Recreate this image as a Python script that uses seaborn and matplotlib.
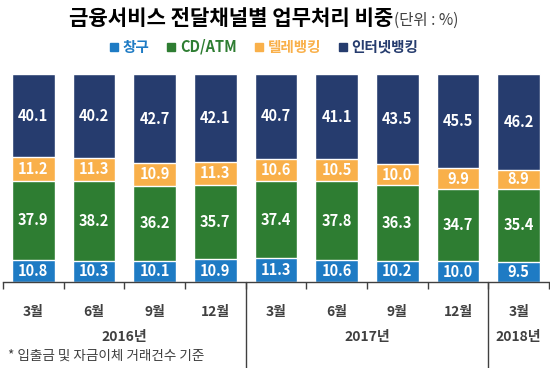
import numpy as np
import pandas as pd
import matplotlib
matplotlib.use("Agg")
import matplotlib.pyplot as plt
import matplotlib.transforms as mtransforms
from matplotlib.lines import Line2D
import seaborn as sns

# ---- data ----
months = ["3월", "6월", "9월", "12월", "3월", "6월", "9월", "12월", "3월"]
years = ["2016년", "2016년", "2016년", "2016년", "2017년", "2017년", "2017년", "2017년", "2018년"]
series_names = ["창구", "CD/ATM", "텔레뱅킹", "인터넷뱅킹"]
counter = [10.8, 10.3, 10.1, 10.9, 11.3, 10.6, 10.2, 10.0, 9.5]
atm = [37.9, 38.2, 36.2, 35.7, 37.4, 37.8, 36.3, 34.7, 35.4]
tele = [11.2, 11.3, 10.9, 11.3, 10.6, 10.5, 10.0, 9.9, 8.9]
internet = [40.1, 40.2, 42.7, 42.1, 40.7, 41.1, 43.5, 45.5, 46.2]
colors = ["#1e7bc4", "#2e7d32", "#f9b04a", "#263c6e"]

sns.set_theme(style="white")
plt.rcParams["font.family"] = ["Noto Sans CJK KR", "DejaVu Sans"]

periods = [f"{y} {m}" for y, m in zip(years, months)]
vals = np.array([counter, atm, tele, internet])
cum = np.cumsum(vals, axis=0)
df = pd.DataFrame({"period": periods})
for i, name in enumerate(series_names):
    df[name] = vals[i]
    df[name + "_cum"] = cum[i]

fig = plt.figure(figsize=(5.5, 3.68), dpi=100)
ax = fig.add_axes([3 / 550, 86 / 368, 546 / 550, 208 / 368])

for i in range(len(series_names) - 1, -1, -1):
    sns.barplot(data=df, x="period", y=series_names[i] + "_cum", color=colors[i],
                saturation=1, width=0.7, ax=ax, order=periods)

ax.set_ylim(0, 100)
ax.set_xlim(-0.5, len(periods) - 0.5)
ax.set_ylabel("")
ax.set_xlabel("")
ax.set_yticks([])
for s in ["top", "left", "right"]:
    ax.spines[s].set_visible(False)
ax.spines["bottom"].set_color("#404040")
ax.spines["bottom"].set_linewidth(1.0)

# value labels
for i in range(len(series_names)):
    bottoms = cum[i] - vals[i]
    for j in range(len(periods)):
        ax.text(j, bottoms[j] + vals[i][j] / 2, f"{vals[i][j]:.1f}", ha="center", va="center",
                color="white", fontsize=10.5, fontweight="bold")

# ticks at boundaries
ax.set_xticks(np.arange(len(periods)))
ax.set_xticklabels([])
ax.tick_params(axis="x", which="major", length=0)
ax.set_xticks(np.arange(-0.5, len(periods), 1.0), minor=True)
ax.tick_params(axis="x", which="minor", length=5, width=1, color="#404040", bottom=True, direction="out")

trans = mtransforms.blended_transform_factory(ax.transData, ax.transAxes)
for j, m in enumerate(months):
    ax.text(j, -30 / 208, m, transform=trans, ha="center", va="center",
            fontsize=10, fontweight="bold", color="#404040")

# year labels
year_order = []
for y in years:
    if y not in year_order:
        year_order.append(y)
for y in year_order:
    idx = [k for k, yy in enumerate(years) if yy == y]
    ax.text(np.mean(idx), -55 / 208, y, transform=trans, ha="center", va="center",
            fontsize=10, fontweight="bold", color="#404040")
    if idx[-1] < len(periods) - 1:
        ax.add_line(Line2D([idx[-1] + 0.5, idx[-1] + 0.5], [0, -86 / 208], transform=trans,
                           color="#404040", lw=1.0, clip_on=False))

fig.text(8 / 550, 1 - 356 / 368, "* 입출금 및 자금이체 거래건수 기준", ha="left", va="center",
         fontsize=9.8, color="#404040")

# title
fig.text(393 / 550, 1 - 25 / 368, "금융서비스 전달채널별 업무처리 비중", ha="right", va="baseline",
         fontsize=15.2, fontweight="bold", color="black")
fig.text(394 / 550, 1 - 25 / 368, "(단위 : %)", ha="left", va="baseline",
         fontsize=11.2, color="#404040")

# legend
handles = [Line2D([], [], marker="s", linestyle="", markersize=6, color=c) for c in colors]
leg = fig.legend(handles, series_names, loc="center", bbox_to_anchor=(0.48, 1 - 47 / 368), ncol=4,
                 frameon=False, handlelength=0.6, handletextpad=0.3, columnspacing=1.2,
                 prop={"size": 10.5}, labelcolor=colors)
for t, c in zip(leg.get_texts(), colors):
    t.set_color(c)
    t.set_fontweight("bold")

fig.savefig("out.png", dpi=100)
